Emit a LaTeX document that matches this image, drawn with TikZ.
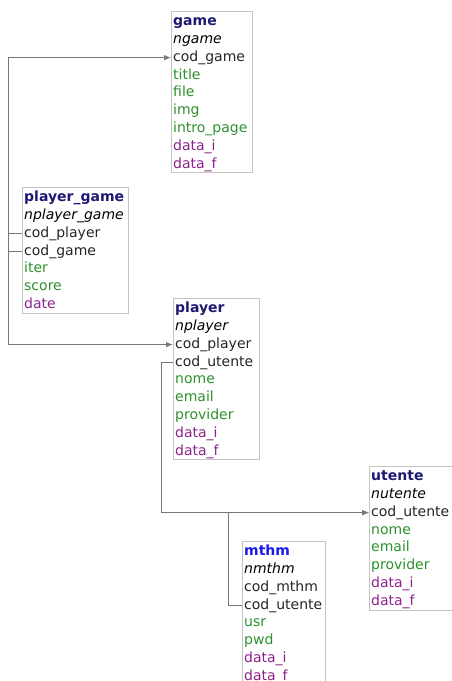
\documentclass[tikz,border=0pt]{standalone}
\usepackage{fontspec}
\setmainfont{DejaVu Sans}
\usetikzlibrary{arrows.meta}
\definecolor{boxgray}{RGB}{195,195,195}
\definecolor{linegray}{RGB}{120,120,120}
\definecolor{tblnavy}{RGB}{30,25,115}
\definecolor{tblblue}{RGB}{25,25,235}
\definecolor{fldgreen}{RGB}{45,145,45}
\definecolor{datpurple}{RGB}{140,35,140}

% #1 name, #2 left x, #3 top y, #4 width, #5 number of rows, #6 list style/text
\newcommand\ertab[6]{%
  \node[tbl, minimum width=#4pt, minimum height={19pt+17.8pt*(#5-1)}] (#1) at (#2,#3) {};
  \foreach \st/\tx [count=\i] in {#6} {
    \node[\st] (#1-\i) at ({#2}, {#3+11+17.8*(\i-1)}) {\tx};
  }%
}

\begin{document}
\begin{tikzpicture}[x=1pt,y=-1pt,
  tbl/.style={draw=boxgray, line width=0.9pt, fill=white, anchor=north west, inner sep=0pt},
  row/.style={anchor=west, inner xsep=2pt, inner ysep=0pt, text height=10.5pt, text depth=3pt,
              font=\fontsize{14}{17}\selectfont},
  ttl/.style={row, text=tblnavy, font=\fontsize{14}{17}\selectfont\bfseries},
  ttlb/.style={row, text=tblblue, font=\fontsize{14}{17}\selectfont\bfseries},
  it/.style={row, text=black, font=\fontsize{14}{17}\selectfont\itshape},
  key/.style={row, text=black!85},
  fld/.style={row, text=fldgreen},
  dat/.style={row, text=datpurple},
  fk/.style={draw=linegray, line width=0.9pt, -{Latex[length=7pt,width=5.5pt]}}]

\useasboundingbox (0,0) rectangle (452,681);
\fill[white] (0,0) rectangle (452,681);
\clip (0,0) rectangle (452,681);

% tables
\ertab{game}{171}{11}{81}{9}{ttl/game, it/ngame, key/cod\_game, fld/title, fld/file, fld/img,
  fld/intro\_page, dat/data\_i, dat/data\_f}
\ertab{pg}{22}{187}{106}{7}{ttl/player\_game, it/nplayer\_game, key/cod\_player, key/cod\_game,
  fld/iter, fld/score, dat/date}
\ertab{player}{173}{298}{86}{9}{ttl/player, it/nplayer, key/cod\_player, key/cod\_utente,
  fld/nome, fld/email, fld/provider, dat/data\_i, dat/data\_f}
\ertab{utente}{369}{466}{90}{8}{ttl/utente, it/nutente, key/cod\_utente, fld/nome, fld/email,
  fld/provider, dat/data\_i, dat/data\_f}
\ertab{mthm}{242}{541}{83}{8}{ttlb/mthm, it/nmthm, key/cod\_mthm, key/cod\_utente, fld/usr,
  fld/pwd, dat/data\_i, dat/data\_f}

% foreign key connectors
\coordinate (trunk) at (8,0);
\coordinate (bendp) at (161,0);
\coordinate (bendm) at (228,0);
\draw[fk] (pg-4.west) -- (pg-4.west -| trunk) |- (game-3.west);
\draw[fk] (pg-3.west) -- (pg-3.west -| trunk) |- (player-3.west);
\draw[fk] (player-4.west) -- (player-4.west -| bendp) |- (utente-3.west);
\draw[fk] (mthm-4.west) -- (mthm-4.west -| bendm) |- (utente-3.west);
\end{tikzpicture}
\end{document}
